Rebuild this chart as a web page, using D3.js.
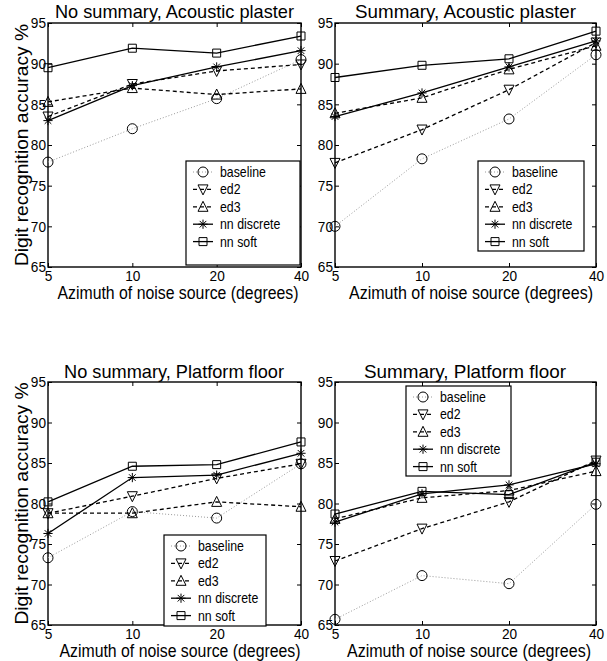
<!DOCTYPE html>
<html><head><meta charset="utf-8">
<script src="https://cdn.jsdelivr.net/npm/d3@7"></script>
<style>
body{margin:0;background:#fff}
svg{display:block;background:#fff}
text{font-family:"Liberation Sans",Arial,Helvetica,sans-serif;fill:#000}
</style>
</head><body>
<svg id="c" width="607" height="661"></svg>
<script>
// ---------------- data ----------------
const azimuths = [5, 10, 20, 40];
const yTickValues = [65, 70, 75, 80, 85, 90, 95];
const seriesNames = ["baseline", "ed2", "ed3", "nn discrete", "nn soft"];
const panelTitles = ["No summary, Acoustic plaster", "Summary, Acoustic plaster",
                     "No summary, Platform floor", "Summary, Platform floor"];
const xLabel = "Azimuth of noise source (degrees)";
const yLabel = "Digit recognition accuracy %";
// rows follow seriesNames, columns follow azimuths
const noSummaryAcoustic = [
  [77.9, 82.0, 85.7, 90.5],
  [83.5, 87.5, 89.1, 89.9],
  [85.3, 87.0, 86.2, 86.9],
  [83.0, 87.3, 89.6, 91.6],
  [89.5, 91.9, 91.3, 93.4]];
const summaryAcoustic = [
  [70.0, 78.3, 83.2, 91.1],
  [77.8, 81.9, 86.8, 92.6],
  [83.9, 85.8, 89.3, 92.2],
  [83.5, 86.4, 89.6, 92.8],
  [88.3, 89.8, 90.6, 94.0]];
const noSummaryPlatform = [
  [73.3, 79.0, 78.2, 84.9],
  [78.8, 80.9, 83.1, 84.9],
  [78.8, 78.8, 80.2, 79.6],
  [76.3, 83.2, 83.5, 86.2],
  [80.2, 84.6, 84.8, 87.6]];
const summaryPlatform = [
  [65.7, 71.1, 70.1, 79.9],
  [72.9, 76.9, 80.2, 85.3],
  [78.1, 80.7, 81.6, 84.0],
  [77.7, 81.2, 82.3, 84.9],
  [78.7, 81.5, 81.1, 85.1]];
const panelData = [noSummaryAcoustic, summaryAcoustic, noSummaryPlatform, summaryPlatform];

// ---------------- layout / style ----------------
const panels = [
  {l:48,  r:301, t:23,  b:267, yLab:true,  title:{cx:174.5, y:18,  w:239}, xl:{cx:178, w:241}, leg:{x:186, y:161, w:114, h:104}},
  {l:335, r:596, t:23,  b:267, yLab:false, title:{cx:465.5, y:18,  w:221}, xl:{cx:471, w:244}, leg:{x:478, y:161, w:106, h:90}},
  {l:48,  r:301, t:382, b:625, yLab:true,  title:{cx:174,   y:378, w:220}, xl:{cx:180, w:241}, leg:{x:164, y:535, w:102, h:91}},
  {l:335, r:596, t:382, b:625, yLab:false, title:{cx:465,   y:378, w:202}, xl:{cx:469, w:244}, leg:{x:406, y:386, w:105, h:90}}
];
const styles = [
  {stroke:"#9a9a9a", dash:"1,2", w:1,   marker:"circle"},
  {stroke:"#000",    dash:"4,3", w:1.3, marker:"tdown"},
  {stroke:"#000",    dash:"4,3", w:1.3, marker:"tup"},
  {stroke:"#000",    dash:null,  w:1.3, marker:"star"},
  {stroke:"#000",    dash:null,  w:1.3, marker:"square"}
];

function markerPath(type){
  switch(type){
    case "circle": return "M5,0A5,5 0 1,1 -5,0A5,5 0 1,1 5,0Z";
    case "tdown": return "M-5,-4.5L5,-4.5L0,5.5Z";
    case "tup": return "M-5,4.5L5,4.5L0,-5.5Z";
    case "square": return "M-4,-4H4V4H-4Z";
    case "star": return "M-4.6,0H4.6M0,-4.6V4.6M-3.3,-3.3L3.3,3.3M-3.3,3.3L3.3,-3.3";
  }
}

function squeeze(sel, f){
  sel.each(function(){ const w=this.getComputedTextLength(); if (w>0) d3.select(this).attr("textLength", w*f).attr("lengthAdjust","spacingAndGlyphs"); });
}

const svg = d3.select("#c");

panels.forEach((p, pi) => {
  const x = d3.scaleLog().base(2).domain([5, 40]).range([p.l, p.r]);
  const y = d3.scaleLinear().domain([65, 95]).range([p.b, p.t]);
  const g = svg.append("g");

  // axes (inward ticks on all four sides)
  const ax = [
    g.append("g").attr("transform", `translate(0,${p.b})`).call(d3.axisBottom(x).tickValues(azimuths).tickFormat(d3.format("d")).tickSize(-4).tickPadding(3)),
    g.append("g").attr("transform", `translate(0,${p.t})`).call(d3.axisTop(x).tickValues(azimuths).tickFormat("").tickSize(-4)),
    g.append("g").attr("transform", `translate(${p.l},0)`).call(d3.axisLeft(y).tickValues(yTickValues).tickFormat(d3.format("d")).tickSize(-4).tickPadding(2)),
    g.append("g").attr("transform", `translate(${p.r},0)`).call(d3.axisRight(y).tickValues(yTickValues).tickFormat("").tickSize(-4))
  ];
  ax.forEach(a => {
    a.select(".domain").remove();
    a.selectAll(".tick line").attr("stroke", "#000").attr("stroke-width", 1);
    a.selectAll("text").attr("font-size", 15.5).attr("font-family", '"Liberation Sans",Arial,sans-serif').attr("fill", "#000");
    squeeze(a.selectAll("text"), 0.88);
  });

  // box
  g.append("rect").attr("x", p.l).attr("y", p.t).attr("width", p.r - p.l).attr("height", p.b - p.t)
    .attr("fill", "none").attr("stroke", "#000").attr("stroke-width", 1.4);

  // series
  const data = panelData[pi];
  const line = d3.line().x(d => x(d[0])).y(d => y(d[1]));
  data.forEach((vals, si) => {
    const st = styles[si];
    const pts = azimuths.map((a, i) => [a, vals[i]]);
    g.append("path").attr("d", line(pts)).attr("fill", "none")
      .attr("stroke", st.stroke).attr("stroke-width", st.w).attr("stroke-dasharray", st.dash);
    g.selectAll(null).data(pts).enter().append("path")
      .attr("transform", d => `translate(${x(d[0])},${y(d[1])})`)
      .attr("d", markerPath(st.marker)).attr("fill", "none").attr("stroke", "#000").attr("stroke-width", 1);
  });

  // title
  g.append("text").attr("x", p.title.cx).attr("y", p.title.y).attr("text-anchor", "middle")
    .attr("font-size", 19).attr("textLength", p.title.w).attr("lengthAdjust", "spacingAndGlyphs").text(panelTitles[pi]);
  // x label
  g.append("text").attr("x", p.xl.cx).attr("y", p.b + 32).attr("text-anchor", "middle")
    .attr("font-size", 17.5).attr("textLength", p.xl.w).attr("lengthAdjust", "spacingAndGlyphs").text(xLabel);
  // y label
  if (p.yLab) {
    g.append("text").attr("transform", `translate(28,${(p.t + p.b) / 2}) rotate(-90)`).attr("text-anchor", "middle")
      .attr("font-size", 18.5).attr("textLength", 242).attr("lengthAdjust", "spacingAndGlyphs").text(yLabel);
  }

  // legend
  const L = p.leg;
  const lg = g.append("g").attr("transform", `translate(${L.x},${L.y})`);
  lg.append("rect").attr("width", L.w).attr("height", L.h).attr("fill", "#fff").attr("stroke", "#000").attr("stroke-width", 1.2);
  seriesNames.forEach((name, si) => {
    const st = styles[si];
    const ry = 11 + si * 17.4;
    lg.append("line").attr("x1", 7).attr("x2", 27).attr("y1", ry).attr("y2", ry)
      .attr("stroke", st.stroke).attr("stroke-width", st.w).attr("stroke-dasharray", st.dash);
    lg.append("path").attr("transform", `translate(17,${ry})`).attr("d", markerPath(st.marker))
      .attr("fill", "none").attr("stroke", "#000").attr("stroke-width", 1);
    const t = lg.append("text").attr("x", 34).attr("y", ry + 5).attr("font-size", 14.5).text(name);
    squeeze(t, 0.85);
  });
});
</script>
</body></html>
